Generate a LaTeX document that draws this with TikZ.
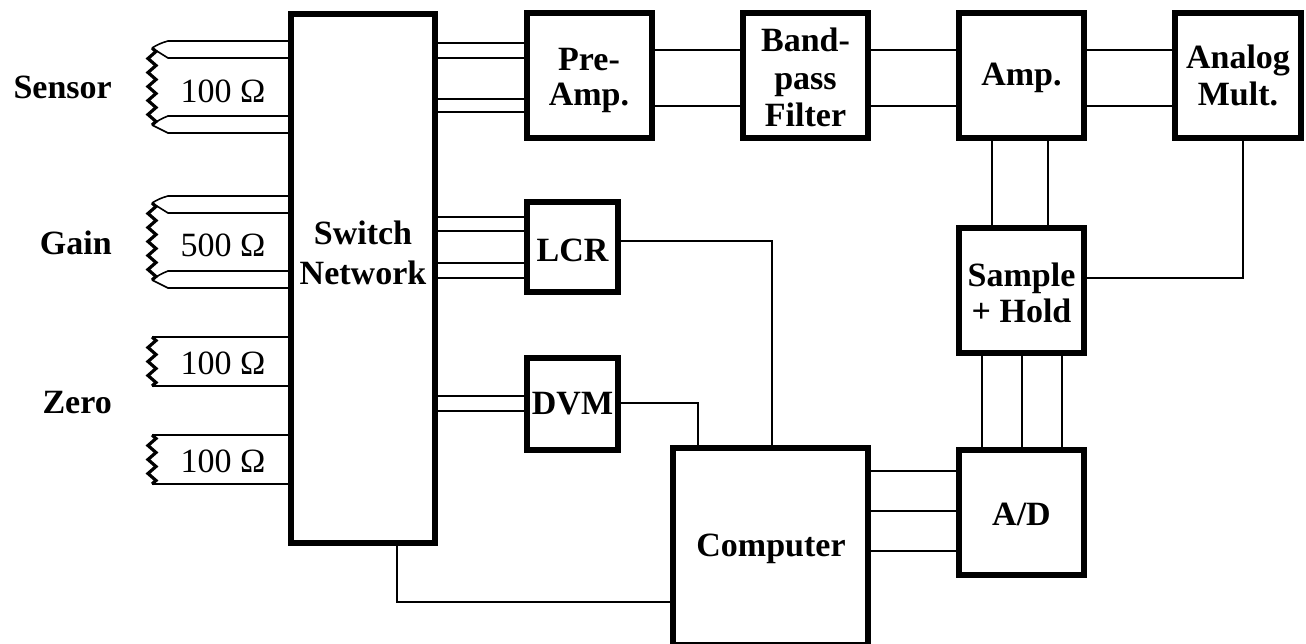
\documentclass[tikz,border=0pt]{standalone}
\usepackage{fontspec}
\setmainfont{Liberation Serif}
\usetikzlibrary{calc,decorations.pathmorphing}
\tikzset{
  blk/.style    = {rectangle, draw=black, fill=white, line width=5.4pt, inner sep=0pt,
                   align=center, font=\fontsize{34}{37.5}\selectfont\bfseries},
  txt/.style    = {inner sep=0pt, align=center, font=\fontsize{34}{40}\selectfont\bfseries},
  val/.style    = {inner sep=0pt, font=\fontsize{34}{38}\selectfont},
  wire/.style   = {black, line width=1.6pt},
  resist/.style = {black, line width=3.2pt, decorate,
                   decoration={zigzag, segment length=14pt, amplitude=4pt}},
}
\begin{document}
\begin{tikzpicture}[x=1pt,y=-1pt]
  \useasboundingbox (0,0) rectangle (1306,643);
  % boxes
  \node[blk, minimum width=144pt, minimum height=529pt] (switch) at (363,278.5) {};
  \node[txt] (switchtxt) at (363,253) {Switch\\Network};
  \node[blk, minimum width=125pt, minimum height=125pt] (preamp) at (589.5,75.5) {};
  \node[txt, font=\fontsize{34}{35}\selectfont\bfseries] (preamptxt) at (589,80) {Pre-\\Amp.};
  \node[blk, minimum width=125pt, minimum height=125pt] (filter) at (805.5,75.5) {};
  \node[txt, font=\fontsize{34}{37.5}\selectfont\bfseries] (filtertxt) at (805.5,77.5) {Band-\\pass\\Filter};
  \node[blk, minimum width=125pt, minimum height=125pt] (amp) at (1021.5,75.5) {};
  \node[txt] (amptxt) at (1021.5,78) {Amp.};
  \node[blk, minimum width=126pt, minimum height=125pt] (mult) at (1238,75.5) {Analog\\Mult.};
  \node[blk, minimum width=91pt, minimum height=90pt] (lcr) at (572.5,247) {};
  \node[txt] (lcrtxt) at (572.5,250) {LCR};
  \node[blk, minimum width=91pt, minimum height=92pt] (dvm) at (572.5,404) {DVM};
  \node[blk, minimum width=125pt, minimum height=125pt] (hold) at (1021.5,290.5) {};
  \node[txt, font=\fontsize{34}{36}\selectfont\bfseries] (holdtxt) at (1021.5,292.5) {Sample\\+ Hold};
  \node[blk, minimum width=125pt, minimum height=125pt] (adc) at (1021.5,512.5) {};
  \node[txt] (adctxt) at (1021.5,514.5) {A/D};
  \node[blk, minimum width=195pt, minimum height=197pt] (comp) at (770.5,546.5) {};
  \node[txt] (comptxt) at (771,549) {Computer};
  % left labels
  \node[txt, anchor=base east] (sensor) at (112,98) {Sensor};
  \node[txt, anchor=base east] (gain) at (112,254) {Gain};
  \node[txt, anchor=base east] (zero) at (112,413) {Zero};
  \node[val] (valA) at (223,91) {100 Ω};
  \node[val] (valB) at (223,245) {500 Ω};
  \node[val] (valC) at (223,363) {100 Ω};
  \node[val] (valD) at (223,461) {100 Ω};
  % resistors with four leads
  \foreach \nm/\ya/\yb in {sens/48/125, gn/203/280} {
    \coordinate (\nm T) at (152,\ya);
    \coordinate (\nm B) at (152,\yb);
    \draw[resist] (\nm T) -- (\nm B);
    \draw[wire] (\nm T) to[bend left=8] ++(16,-7) -- (switch.west |- 0,\ya-7);
    \draw[wire] (\nm T) -- ++(16,10) -- (switch.west |- 0,\ya+10);
    \draw[wire] (\nm B) to[bend left=8] ++(16,-9) -- (switch.west |- 0,\yb-9);
    \draw[wire] (\nm B) -- ++(16,8) -- (switch.west |- 0,\yb+8);
  }
  % resistors with two leads
  \foreach \nm/\ya/\yb in {zrA/337/386, zrB/435/484} {
    \coordinate (\nm T) at (152,\ya);
    \coordinate (\nm B) at (152,\yb);
    \draw[resist] (\nm T) -- (\nm B);
    \draw[wire] (\nm T) -- (switch.west |- \nm T);
    \draw[wire] (\nm B) -- (switch.west |- \nm B);
  }
  % signal path
  \foreach \yy in {43,58,99,112} \draw[wire] (switch.east |- 0,\yy) -- (preamp.west |- 0,\yy);
  \foreach \yy in {217,231,263,278} \draw[wire] (switch.east |- 0,\yy) -- (lcr.west |- 0,\yy);
  \foreach \yy in {396,411} \draw[wire] (switch.east |- 0,\yy) -- (dvm.west |- 0,\yy);
  \foreach \yy in {50,106} {
    \draw[wire] (preamp.east |- 0,\yy) -- (filter.west |- 0,\yy);
    \draw[wire] (filter.east |- 0,\yy) -- (amp.west |- 0,\yy);
    \draw[wire] (amp.east |- 0,\yy) -- (mult.west |- 0,\yy);
  }
  \foreach \xx in {992,1048} \draw[wire] (amp.south -| \xx,0) -- (hold.north -| \xx,0);
  \foreach \xx in {982,1022,1062} \draw[wire] (hold.south -| \xx,0) -- (adc.north -| \xx,0);
  \foreach \yy in {471,511,551} \draw[wire] (comp.east |- 0,\yy) -- (adc.west |- 0,\yy);
  % control lines
  \draw[wire] (lcr.east |- 0,241) -| (comp.north -| 772,0);
  \draw[wire] (dvm.east |- 0,403) -| (comp.north -| 698,0);
  \draw[wire] (hold.east |- 0,278) -| (mult.south -| 1243,0);
  \draw[wire] (switch.south -| 397,0) |- (comp.west |- 0,602);
\end{tikzpicture}
\end{document}
